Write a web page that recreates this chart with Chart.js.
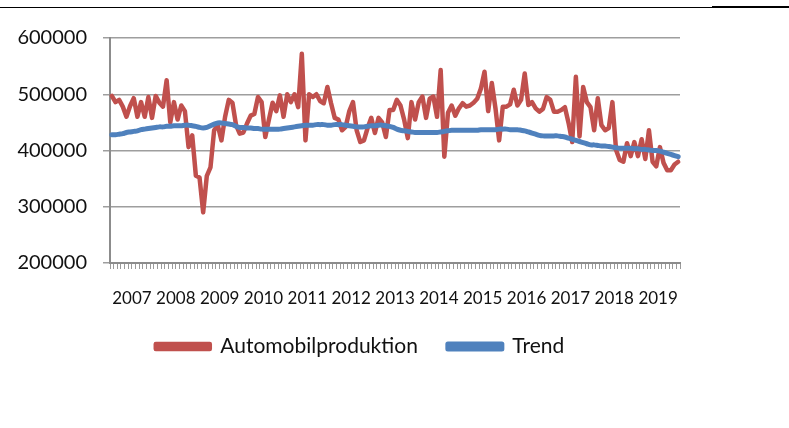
<!DOCTYPE html>
<html>
<head>
<meta charset="utf-8">
<script src="https://cdn.jsdelivr.net/npm/chart.js@4/dist/chart.umd.min.js"></script>
<style>
  html, body { margin: 0; padding: 0; background: #fff; }
  #wrap { position: relative; width: 789px; height: 428px; }
</style>
</head>
<body>
<div id="wrap"><canvas id="chart" width="789" height="428"></canvas></div>
<script>
// =====================
// Data
// =====================

const years = ['2007', '2008', '2009', '2010', '2011', '2012', '2013',
               '2014', '2015', '2016', '2017', '2018', '2019'];
const months = ['01', '02', '03', '04', '05', '06', '07', '08', '09', '10', '11', '12'];
const monthLabels = years.flatMap(y => months.map(m => y + '-' + m));

const yTicks = [200000, 300000, 400000, 500000, 600000];

// monthly car production, Jan 2007 - Dec 2019
const production = [
  497000, 486000, 490000, 478000, 460000, 479000, 493000, 460000, 486000, 460000, 495000, 458000, // 2007
  497000, 485000, 478000, 525000, 450000, 486000, 455000, 480000, 470000, 406000, 427000, 355000, // 2008
  352000, 290000, 355000, 370000, 436000, 445000, 418000, 460000, 490000, 485000, 445000, 430000, // 2009
  432000, 448000, 462000, 465000, 495000, 486000, 424000, 455000, 485000, 470000, 498000, 460000, // 2010
  500000, 486000, 500000, 477000, 572000, 418000, 500000, 495000, 500000, 488000, 484000, 513000, // 2011
  484000, 458000, 455000, 436000, 442000, 470000, 486000, 436000, 415000, 418000, 440000, 458000, // 2012
  431000, 458000, 450000, 424000, 472000, 472000, 490000, 480000, 455000, 422000, 486000, 455000, // 2013
  486000, 496000, 458000, 492000, 496000, 460000, 543000, 389000, 467000, 480000, 462000, 475000, // 2014
  484000, 478000, 480000, 485000, 492000, 510000, 540000, 470000, 520000, 475000, 418000, 478000, // 2015
  478000, 482000, 508000, 480000, 490000, 537000, 481000, 486000, 475000, 469000, 474000, 495000, // 2016
  490000, 469000, 469000, 472000, 477000, 449000, 415000, 531000, 425000, 513000, 486000, 477000, // 2017
  436000, 493000, 445000, 436000, 440000, 486000, 401000, 383000, 380000, 413000, 390000, 415000, // 2018
  390000, 420000, 385000, 436000, 380000, 372000, 406000, 378000, 365000, 365000, 375000, 380000  // 2019
];

const trend = [
  428000, 428000, 429000, 430000, 432000, 433000, 434000, 435000, 437000, 438000, 439000, 440000, // 2007
  441000, 442000, 442000, 443000, 443000, 444000, 444000, 444000, 445000, 445000, 444000, 443000, // 2008
  441000, 440000, 441000, 444000, 447000, 449000, 449000, 448000, 447000, 446000, 443000, 441000, // 2009
  441000, 440000, 440000, 439000, 439000, 438000, 438000, 438000, 438000, 438000, 438000, 439000, // 2010
  440000, 441000, 442000, 443000, 444000, 445000, 445000, 445000, 446000, 446000, 446000, 445000, // 2011
  445000, 446000, 446000, 446000, 445000, 444000, 443000, 442000, 442000, 442000, 443000, 444000, // 2012
  444000, 445000, 445000, 444000, 443000, 441000, 438000, 436000, 435000, 434000, 433000, 432000, // 2013
  432000, 432000, 432000, 432000, 432000, 432000, 433000, 434000, 435000, 436000, 436000, 436000, // 2014
  436000, 436000, 436000, 436000, 436000, 437000, 437000, 437000, 437000, 437000, 438000, 438000, // 2015
  438000, 437000, 437000, 437000, 436000, 435000, 433000, 431000, 429000, 427000, 426000, 426000, // 2016
  426000, 426000, 426000, 425000, 424000, 422000, 420000, 418000, 416000, 414000, 412000, 410000, // 2017
  410000, 409000, 408000, 408000, 407000, 406000, 405000, 404000, 404000, 404000, 404000, 403000, // 2018
  403000, 402000, 402000, 401000, 400000, 400000, 399000, 397000, 395000, 393000, 391000, 389000  // 2019
];

// =====================
// Chart
// =====================

Chart.defaults.font.family = 'Lato';
Chart.defaults.color = '#111';

// white background + the rule along the top of the picture
const pageDecor = {
  id: 'pageDecor',
  beforeDraw(chart) {
    const ctx = chart.ctx;
    ctx.save();
    ctx.fillStyle = '#fff';
    ctx.fillRect(0, 0, chart.width, chart.height);
    ctx.fillStyle = '#000';
    ctx.fillRect(0, 7, chart.width, 1);
    ctx.fillRect(712, 6, chart.width - 712, 2);
    ctx.restore();
  }
};

new Chart(document.getElementById('chart'), {
  type: 'line',
  data: {
    labels: monthLabels,
    datasets: [
      {
        label: 'Automobilproduktion',
        data: production,
        borderColor: '#C0504D',
        backgroundColor: '#C0504D',
        borderWidth: 4.5,
        pointRadius: 0,
        tension: 0,
        borderJoinStyle: 'round',
        borderCapStyle: 'round',
        order: 1
      },
      {
        label: 'Trend',
        data: trend,
        borderColor: '#4F81BD',
        backgroundColor: '#4F81BD',
        borderWidth: 5,
        pointRadius: 0,
        tension: 0.3,
        borderJoinStyle: 'round',
        borderCapStyle: 'round',
        order: 0
      }
    ]
  },
  options: {
    responsive: false,
    animation: false,
    layout: { padding: { left: 0, right: 69, top: 38, bottom: 61 } },
    plugins: {
      tooltip: { enabled: false },
      legend: {
        position: 'bottom',
        labels: {
          boxWidth: 54,
          boxHeight: 5,
          padding: 30,
          font: { size: 21 },
          color: '#111',
          sort: (a, b) => a.datasetIndex - b.datasetIndex
        }
      }
    },
    scales: {
      x: {
        type: 'category',
        offset: true,
        afterFit: scale => { scale.height = 43; },
        border: { display: true, color: '#8c8c8c', width: 2 },
        grid: {
          offset: true,
          drawOnChartArea: false,
          drawTicks: true,
          tickLength: 6,
          color: '#9a9a9a',
          lineWidth: 1
        },
        ticks: {
          autoSkip: false,
          maxRotation: 0,
          minRotation: 0,
          padding: 19,
          labelOffset: -1.8,
          font: { size: 17 },
          color: '#111',
          callback: (value, index) => index % 12 === 6 ? years[Math.floor(index / 12)] : ''
        }
      },
      y: {
        min: yTicks[0],
        max: yTicks[yTicks.length - 1],
        afterFit: scale => { scale.width = 110; },
        afterBuildTicks: scale => { scale.ticks = yTicks.map(v => ({ value: v })); },
        border: { display: true, color: '#8c8c8c', width: 2 },
        grid: {
          color: '#9e9e9e',
          lineWidth: 1.5,
          tickLength: 7
        },
        ticks: {
          padding: 16,
          font: { size: 20 },
          color: '#111',
          callback: v => String(v)
        }
      },
      // empty spacer on the right, keeps the legend where Excel put it
      spacer: {
        position: 'right',
        min: yTicks[0],
        max: yTicks[yTicks.length - 1],
        afterFit: scale => { scale.width = 40; },
        border: { display: false },
        grid: { display: false, drawTicks: false },
        ticks: { display: false }
      }
    }
  },
  plugins: [pageDecor]
});
</script>
</body>
</html>
